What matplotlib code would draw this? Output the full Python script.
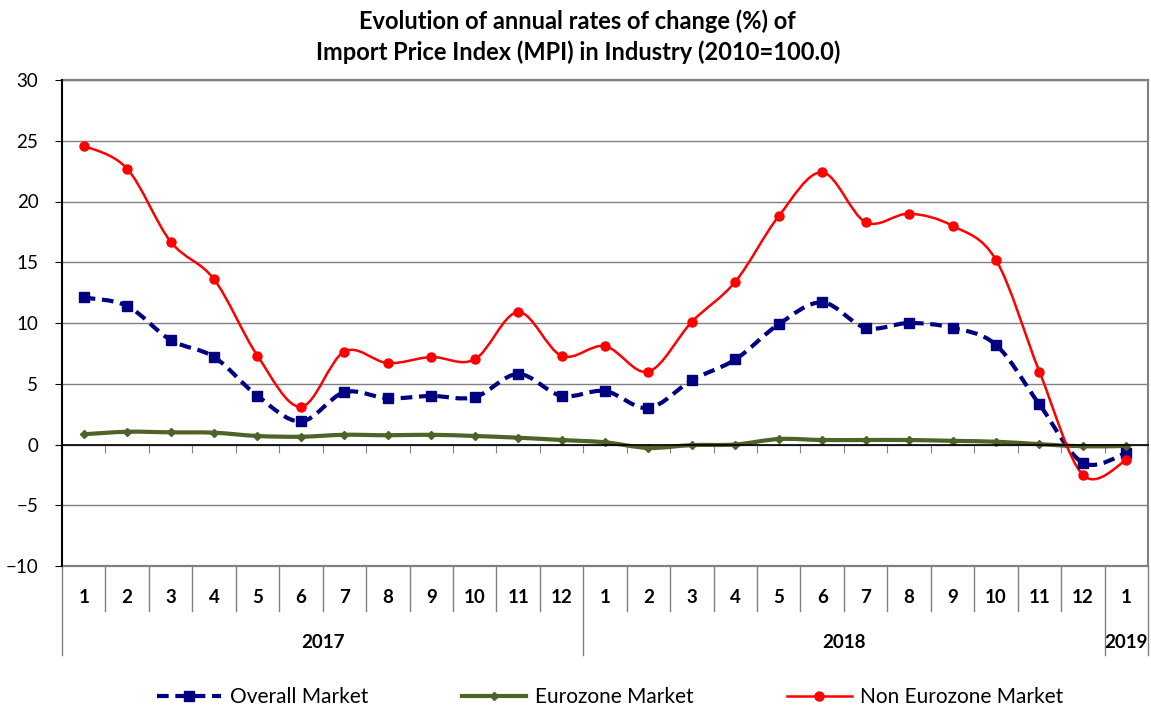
import matplotlib
matplotlib.use('Agg')
import matplotlib.pyplot as plt
from matplotlib.path import Path
from matplotlib.patches import PathPatch
from matplotlib.lines import Line2D
import numpy as np

plt.rcParams['font.family'] = ['Lato', 'DejaVu Sans']

months = ['1', '2', '3', '4', '5', '6', '7', '8', '9', '10', '11', '12',
          '1', '2', '3', '4', '5', '6', '7', '8', '9', '10', '11', '12', '1']
years = ['2017', '2018', '2019']
year_start = [0, 12, 24]
year_end = [11, 23, 24]

overall = [12.1, 11.4, 8.6, 7.2, 4.0, 1.9, 4.3, 3.8, 4.0, 3.9, 5.8, 4.0,
           4.4, 3.0, 5.3, 7.0, 9.9, 11.7, 9.6, 10.0, 9.6, 8.2, 3.3, -1.5, -0.7]
eurozone = [0.84, 1.05, 1.0, 0.97, 0.7, 0.64, 0.8, 0.76, 0.8, 0.7, 0.56, 0.37,
            0.18, -0.28, -0.05, 0.0, 0.45, 0.37, 0.37, 0.37, 0.3, 0.23, 0.03, -0.15, -0.12]
non_eurozone = [24.6, 22.7, 16.7, 13.6, 7.3, 3.1, 7.65, 6.7, 7.2, 7.0, 10.9, 7.3,
                8.1, 6.0, 10.1, 13.4, 18.8, 22.4, 18.3, 19.0, 18.0, 15.2, 6.0, -2.5, -1.3]

names = ['Overall Market', 'Eurozone Market', 'Non Eurozone Market']


def smooth_path(xs, ys):
    # Excel-style smoothed line: bezier segments through each point
    pts = np.column_stack([xs, ys]).astype(float)
    p = np.vstack([pts[0], pts, pts[-1]])
    verts = [tuple(pts[0])]
    codes = [Path.MOVETO]
    for i in range(1, len(p) - 2):
        c1 = p[i] + (p[i + 1] - p[i - 1]) / 6
        c2 = p[i + 1] - (p[i + 2] - p[i]) / 6
        verts += [tuple(c1), tuple(c2), tuple(p[i + 1])]
        codes += [Path.CURVE4] * 3
    return Path(verts, codes)


W, H = 1151, 708
fig = plt.figure(figsize=(W / 100, H / 100), dpi=100)
ax = fig.add_axes([62 / W, 1 - 566 / H, (1148 - 62) / W, (566 - 80) / H])

x = np.arange(len(months))
ax.set_xlim(-0.5, len(months) - 0.5)
ax.set_ylim(-10, 30)
ax.set_yticks(range(-10, 31, 5))
ax.yaxis.grid(True, color='#808080', lw=1)
ax.set_axisbelow(True)

for s in ['top', 'right']:
    ax.spines[s].set_visible(False)
ax.spines['left'].set_color('black')
ax.spines['left'].set_linewidth(1.5)
ax.spines['bottom'].set_position(('data', 0))
ax.spines['bottom'].set_color('black')
ax.spines['bottom'].set_linewidth(1.2)
ax.axhline(-10, color='#808080', lw=1.6, clip_on=False, zorder=1)
ax.axhline(30, color='#808080', lw=1.6, clip_on=False, zorder=1)

ax.set_xticks(np.arange(-0.5, len(months), 1))
ax.set_xticklabels([])
ax.tick_params(axis='x', direction='out', length=6, color='#808080')
ax.tick_params(axis='y', direction='out', length=5, labelsize=13.5, pad=12)

# curves
styles = [
    dict(color='#000080', lw=3, ls=(0, (2.8, 1.6)), marker='s', ms=6.5),
    dict(color='#4F6228', lw=3, ls='-', marker='D', ms=4.5),
    dict(color='#FF0000', lw=1.8, ls='-', marker='o', ms=6.5),
]
handles = []
for vals, st in zip([overall, eurozone, non_eurozone], styles):
    patch = PathPatch(smooth_path(x, vals), fill=False, edgecolor=st['color'],
                      lw=st['lw'], linestyle=st['ls'], capstyle='butt')
    ax.add_patch(patch)
    ax.plot(x, vals, ls='none', marker=st['marker'], ms=st['ms'],
            color=st['color'], zorder=patch.get_zorder() + 0.1)
    handles.append(Line2D([], [], color=st['color'], lw=st['lw'], ls=st['ls'],
                          marker=st['marker'], ms=st['ms']))

# category table below the plot
tr = ax.get_xaxis_transform()
for i, m in enumerate(months):
    ax.text(i, -0.064, m, transform=tr, ha='center', va='center',
            fontweight='bold', fontsize=13.5)
bounds = set([s for s in year_start] + [len(months)])
for k in range(len(months) + 1):
    xb = k - 0.5
    y_low = -0.183 if k in bounds else -0.0926
    ax.plot([xb, xb], [0, y_low], transform=tr, color='#808080', lw=1,
            clip_on=False)
ax.plot([len(months) - 0.5] * 2, [0, 1], transform=tr, color='#808080', lw=1.5,
        clip_on=False)
for yr, a, b in zip(years, year_start, year_end):
    ax.text((a + b) / 2, -0.157, yr, transform=tr, ha='center', va='center',
            fontweight='bold', fontsize=13.5)

fig.text(0.502, 1 - 21 / H, 'Evolution of annual rates of change (%) of',
         ha='center', va='center', fontweight='bold', fontsize=17)
fig.text(0.502, 1 - 52 / H, 'Import Price Index (MPI) in Industry (2010=100.0)',
         ha='center', va='center', fontweight='bold', fontsize=17)

fig.legend(handles, names, loc='center', bbox_to_anchor=(610 / W, 1 - 697 / H),
           ncol=3, frameon=False, fontsize=15, handlelength=3.1,
           handletextpad=0.4, columnspacing=4.5)

fig.savefig('out.png', dpi=100)
